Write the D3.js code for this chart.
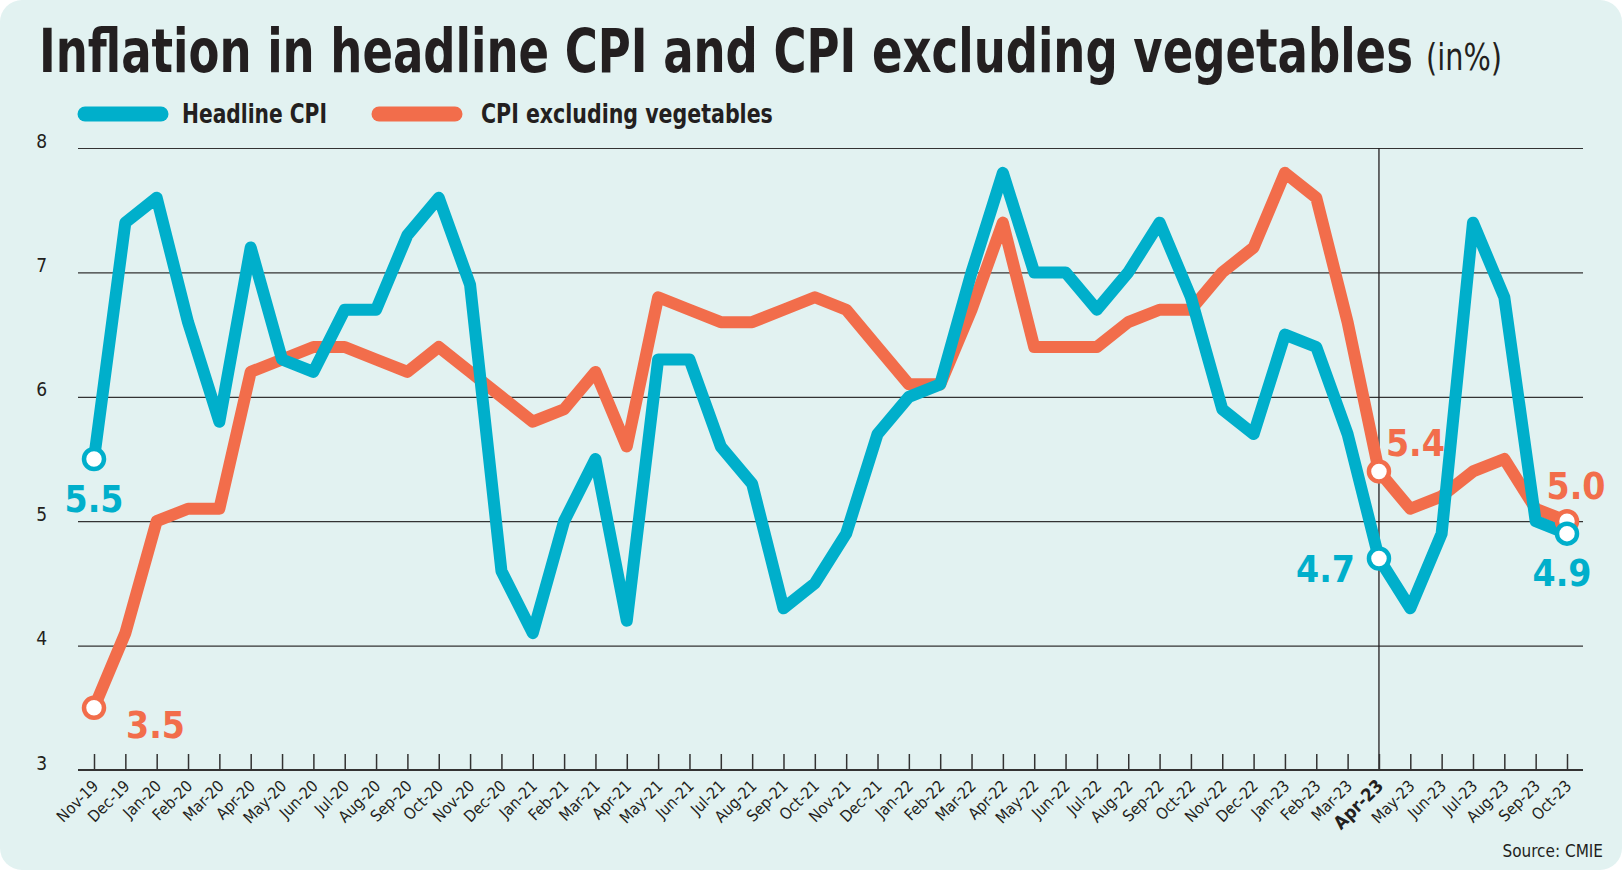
<!doctype html>
<html lang="en">
<head>
<meta charset="UTF-8">
<title>Inflation in headline CPI and CPI excluding vegetables</title>
<style>
  html, body { margin: 0; padding: 0; background: #fff; }
  svg text { font-family: "Liberation Sans Narrow", "DejaVu Sans Condensed", "Roboto", sans-serif; }
</style>
</head>
<body>
<div class="container"></div>

<script src="https://d3js.org/d3.v7.min.js"></script>
<script>
  const months = ['Nov-19','Dec-19','Jan-20','Feb-20','Mar-20','Apr-20','May-20','Jun-20','Jul-20','Aug-20','Sep-20','Oct-20',
    'Nov-20','Dec-20','Jan-21','Feb-21','Mar-21','Apr-21','May-21','Jun-21','Jul-21','Aug-21','Sep-21','Oct-21',
    'Nov-21','Dec-21','Jan-22','Feb-22','Mar-22','Apr-22','May-22','Jun-22','Jul-22','Aug-22','Sep-22','Oct-22',
    'Nov-22','Dec-22','Jan-23','Feb-23','Mar-23','Apr-23','May-23','Jun-23','Jul-23','Aug-23','Sep-23','Oct-23'];

  const headline = [5.5, 7.4, 7.6, 6.6, 5.8, 7.2, 6.3, 6.2, 6.7, 6.7, 7.3, 7.6,
    6.9, 4.6, 4.1, 5.0, 5.5, 4.2, 6.3, 6.3, 5.6, 5.3, 4.3, 4.5,
    4.9, 5.7, 6.0, 6.1, 7.0, 7.8, 7.0, 7.0, 6.7, 7.0, 7.4, 6.8,
    5.9, 5.7, 6.5, 6.4, 5.7, 4.7, 4.3, 4.9, 7.4, 6.8, 5.0, 4.9];

  const exVeg = [3.5, 4.1, 5.0, 5.1, 5.1, 6.2, 6.3, 6.4, 6.4, 6.3, 6.2, 6.4,
    6.2, 6.0, 5.8, 5.9, 6.2, 5.6, 6.8, 6.7, 6.6, 6.6, 6.7, 6.8,
    6.7, 6.4, 6.1, 6.1, 6.7, 7.4, 6.4, 6.4, 6.4, 6.6, 6.7, 6.7,
    7.0, 7.2, 7.8, 7.6, 6.6, 5.4, 5.1, 5.2, 5.4, 5.5, 5.1, 5.0];

  const yTicks = [3, 4, 5, 6, 7, 8];
  const highlightMonth = 'Apr-23';

  const WIDTH = 1622;
  const HEIGHT = 870;
  const BLUE = '#00AFCB';
  const ORANGE = '#F26D4B';
  const INK = '#231f20';

  const svg = d3.select('.container')
    .append('svg')
    .attr('width', WIDTH)
    .attr('height', HEIGHT)
    .style('display', 'block');

  // squeeze a text horizontally so it spans w pixels
  function fitWidth(sel, w) {
    const len = sel.node().getComputedTextLength();
    const tx = +sel.attr('x'), ty = +sel.attr('y');
    sel.attr('x', 0).attr('y', 0)
      .attr('transform', `translate(${tx},${ty}) scale(${w / len},1)`);
  }

  // card background
  svg.append('rect')
    .attr('x', 0).attr('y', 0)
    .attr('width', WIDTH).attr('height', HEIGHT)
    .attr('rx', 22)
    .attr('fill', '#E2F2F1');

  // title
  const title = svg.append('text')
    .attr('x', 39).attr('y', 72)
    .attr('font-size', 60)
    .attr('font-weight', 'bold')
    .attr('fill', INK)
    .text('Inflation in headline CPI and CPI excluding vegetables');
  fitWidth(title, 1374);

  const unit = svg.append('text')
    .attr('x', 1426).attr('y', 70)
    .attr('font-size', 38)
    .attr('fill', INK)
    .text('(in%)');
  fitWidth(unit, 76);

  // legend
  const legend = [
    { name: 'Headline CPI', color: BLUE, x: 78, tx: 182, tw: 145 },
    { name: 'CPI excluding vegetables', color: ORANGE, x: 372, tx: 481, tw: 292 }
  ];
  legend.forEach(l => {
    svg.append('line')
      .attr('x1', l.x + 7).attr('x2', l.x + 83)
      .attr('y1', 114).attr('y2', 114)
      .attr('stroke', l.color)
      .attr('stroke-width', 15)
      .attr('stroke-linecap', 'round');
    const t = svg.append('text')
      .attr('x', l.tx).attr('y', 123)
      .attr('font-size', 27)
      .attr('font-weight', 'bold')
      .attr('fill', INK)
      .text(l.name);
    fitWidth(t, l.tw);
  });

  const x = d3.scalePoint()
    .domain(months)
    .range([94, 1567]);

  const y = d3.scaleLinear()
    .domain([3, 8])
    .range([770, 148]);

  const LEFT = 78;
  const RIGHT = 1583;

  // gridlines + y labels
  const yAxisGroup = svg.append('g')
    .attr('transform', `translate(${LEFT},0)`)
    .call(d3.axisLeft(y).tickValues(yTicks).tickFormat(d3.format('d'))
      .tickSize(-(RIGHT - LEFT)).tickPadding(31));
  yAxisGroup.select('.domain').remove();
  yAxisGroup.selectAll('line')
    .attr('stroke', '#333')
    .attr('stroke-width', 1.2);
  yAxisGroup.selectAll('text')
    .attr('font-size', 19)
    .attr('fill', INK)
    .attr('dy', '-0.05em');

  // Apr-23 marker line
  svg.append('line')
    .attr('x1', x(highlightMonth)).attr('x2', x(highlightMonth))
    .attr('y1', y(8)).attr('y2', y(3))
    .attr('stroke', INK)
    .attr('stroke-width', 1.3);

  // x axis
  svg.append('line')
    .attr('x1', LEFT).attr('x2', RIGHT)
    .attr('y1', y(3)).attr('y2', y(3))
    .attr('stroke', '#333')
    .attr('stroke-width', 2.2);

  const xAxisGroup = svg.append('g')
    .attr('transform', `translate(0,${y(3)})`)
    .call(d3.axisBottom(x).tickSizeInner(-16).tickSizeOuter(0));
  xAxisGroup.select('.domain').remove();
  xAxisGroup.selectAll('line')
    .attr('stroke', '#333')
    .attr('stroke-width', 1.5);
  xAxisGroup.selectAll('text')
    .attr('y', 0).attr('dy', 0)
    .attr('text-anchor', 'end')
    .attr('transform', 'translate(5,17) rotate(-45)')
    .attr('font-size', 16)
    .attr('fill', INK)
    .filter(d => d === highlightMonth)
    .attr('font-weight', 'bold')
    .attr('font-size', 18);

  // lines
  const line = d3.line()
    .x((d, i) => x(months[i]))
    .y(d => y(d));

  const series = [
    { values: exVeg, color: ORANGE },
    { values: headline, color: BLUE }
  ];

  series.forEach(s => {
    svg.append('path')
      .datum(s.values)
      .attr('d', line)
      .attr('fill', 'none')
      .attr('stroke', s.color)
      .attr('stroke-width', 12)
      .attr('stroke-linejoin', 'round');
  });

  // highlighted points
  const last = months.length - 1;
  const aprIdx = months.indexOf(highlightMonth);
  const points = [
    { i: 0, v: exVeg[0], color: ORANGE },
    { i: aprIdx, v: exVeg[aprIdx], color: ORANGE },
    { i: last, v: exVeg[last], color: ORANGE },
    { i: 0, v: headline[0], color: BLUE },
    { i: aprIdx, v: headline[aprIdx], color: BLUE },
    { i: last, v: headline[last], color: BLUE }
  ];
  svg.selectAll('circle.pt')
    .data(points)
    .enter().append('circle')
    .attr('class', 'pt')
    .attr('cx', d => x(months[d.i]))
    .attr('cy', d => y(d.v))
    .attr('r', 10)
    .attr('fill', '#fff')
    .attr('stroke', d => d.color)
    .attr('stroke-width', 4.5);

  // value labels
  const labels = [
    { i: 0, v: headline[0], color: BLUE, dx: 0, dy: 53, anchor: 'middle' },
    { i: 0, v: exVeg[0], color: ORANGE, dx: 32, dy: 30, anchor: 'start' },
    { i: aprIdx, v: exVeg[aprIdx], color: ORANGE, dx: 7, dy: -15, anchor: 'start' },
    { i: aprIdx, v: headline[aprIdx], color: BLUE, dx: -24, dy: 23, anchor: 'end' },
    { i: last, v: exVeg[last], color: ORANGE, dx: 9, dy: -22, anchor: 'middle' },
    { i: last, v: headline[last], color: BLUE, dx: -5, dy: 52, anchor: 'middle' }
  ];
  svg.selectAll('text.val')
    .data(labels)
    .enter().append('text')
    .attr('class', 'val')
    .attr('x', d => x(months[d.i]) + d.dx)
    .attr('y', d => y(d.v) + d.dy)
    .attr('text-anchor', d => d.anchor)
    .attr('font-size', 37)
    .attr('font-weight', 'bold')
    .attr('fill', d => d.color)
    .style('font-family', '"DejaVu Sans Condensed", "DejaVu Sans", sans-serif')
    .text(d => d.v.toFixed(1));

  // source
  svg.append('text')
    .attr('x', 1603).attr('y', 857)
    .attr('text-anchor', 'end')
    .attr('font-size', 17)
    .attr('fill', INK)
    .text('Source: CMIE');
</script>
</body>
</html>
